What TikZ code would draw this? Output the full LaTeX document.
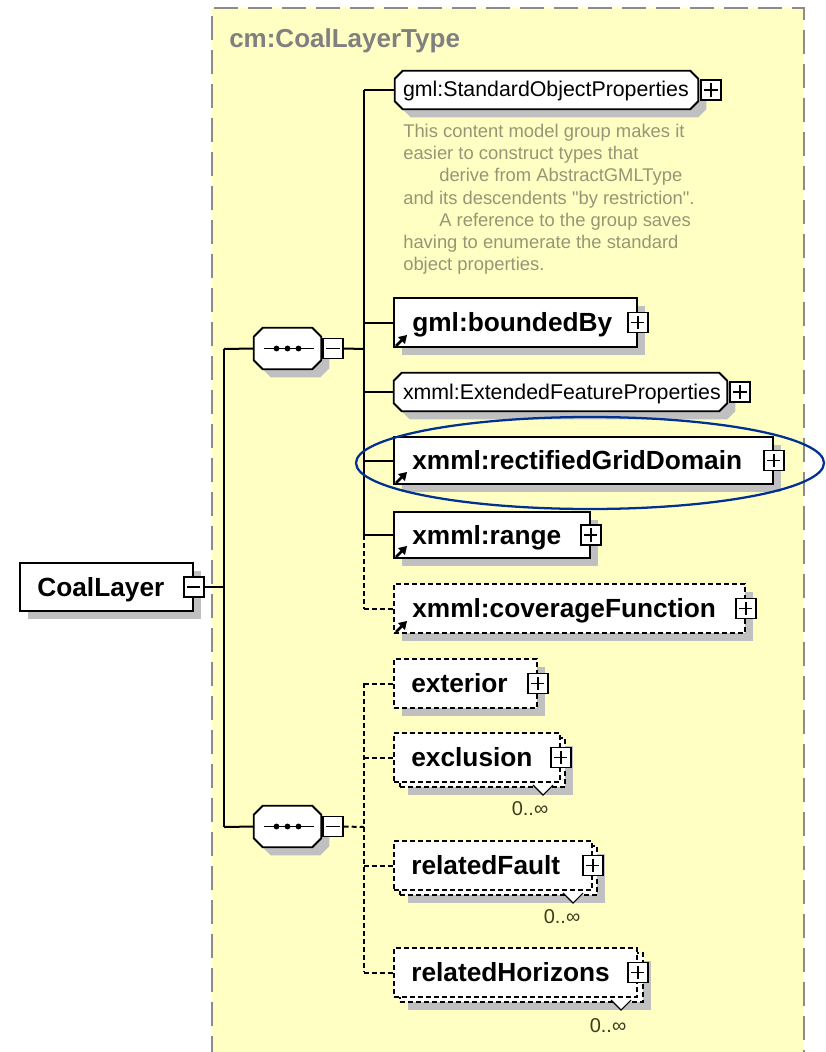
\documentclass[tikz,border=0pt]{standalone}
\usepackage{fontspec}
\setmainfont{Liberation Sans}[Ligatures=TeXOff]
\usetikzlibrary{shadows,fit,calc,arrows.meta}

\definecolor{bgyellow}{RGB}{255,255,196}
\definecolor{framegray}{RGB}{140,140,140}
\definecolor{shadowgray}{RGB}{192,192,192}
\definecolor{docolive}{RGB}{150,150,118}
\definecolor{titlegray}{RGB}{128,128,128}
\definecolor{markblue}{RGB}{0,48,145}
\definecolor{occurtext}{RGB}{60,60,30}

\tikzset{
  wire/.style={line width=1.5pt},
  optwire/.style={wire, dash pattern=on 3.6pt off 2.4pt},
  boxshadow/.style={drop shadow={shadow xshift=6pt, shadow yshift=-6pt, fill=shadowgray, opacity=1}},
  elembox/.style={rectangle, draw, fill=white, line width=1.4pt, inner sep=0pt},
  optbox/.style={elembox, dash pattern=on 3.6pt off 2.4pt},
  % invisible frame of a group or compositor; its outline is drawn with octagon
  grpframe/.style={rectangle, inner sep=0pt},
  % cut-corner outline of node #1, corner cut #2, offset (#3,#4)
  octagon/.style n args={4}{insert path={
      ($(#1.north west)+(#2+#3,#4)$) -- ($(#1.north east)+(-#2+#3,#4)$) --
      ($(#1.north east)+(#3,#2+#4)$) -- ($(#1.south east)+(#3,-#2+#4)$) --
      ($(#1.south east)+(-#2+#3,#4)$) -- ($(#1.south west)+(#2+#3,#4)$) --
      ($(#1.south west)+(#3,-#2+#4)$) -- ($(#1.north west)+(#3,#2+#4)$) -- cycle}},
  grpline/.style={draw=black, fill=white, line width=1.4pt},
  expander/.style={rectangle, draw, fill=white, line width=1.1pt, minimum size=15pt, inner sep=0pt},
  plusbox/.style={expander, path picture={\draw[line width=1.1pt]
      ([yshift=-2.6pt]path picture bounding box.north) -- ([yshift=2.6pt]path picture bounding box.south)
      ([xshift=2.6pt]path picture bounding box.west) -- ([xshift=-2.6pt]path picture bounding box.east);}},
  minusbox/.style={expander, path picture={\draw[line width=1.1pt]
      ([xshift=2.6pt]path picture bounding box.west) -- ([xshift=-2.6pt]path picture bounding box.east);}},
  ename/.style={anchor=base west, inner sep=0pt, font=\fontsize{19.7}{23}\selectfont\bfseries},
  gname/.style={anchor=base west, inner sep=0pt, font=\fontsize{16}{19}\selectfont},
  doctext/.style={anchor=north west, inner sep=0pt, align=left, text=docolive,
                  font=\fontsize{13.8}{16.6}\selectfont},
  occurs/.style={anchor=base, inner sep=0pt, text=occurtext, font=\fontsize{15}{17}\selectfont},
  refmark/.style={line width=2pt, -{Triangle[length=6pt,width=7pt]}},
  seqdot/.style={fill=black},
  chevron/.style={line width=0.8pt, fill=white},
}

\begin{document}
\begin{tikzpicture}[x=0.75pt, y=-0.75pt]
\useasboundingbox (0,0) rectangle (825,1052);
\fill[white] (0,0) rectangle (825,1052);

% complex type frame
\fill[bgyellow] (212,8) rectangle (804,1060);
\draw[framegray, line width=1.5pt, dash pattern=on 18pt off 7.5pt]
  (212,1060) -- (212,8) -- (804,8) -- (804,1060);
\node[anchor=base west, inner sep=0pt, text=titlegray, font=\fontsize{19.5}{23}\selectfont\bfseries]
  (title) at (229,48) {cm:CoalLayerType};

% root element
\node[elembox, boxshadow, fit={(20,563)(193,611)}] (root) {};
\node[minusbox] (rootm) at (root.east) {};
\node[ename] (roott) at ($(root.west)+(18,9)$) {CoalLayer};

% first sequence
\node[grpframe, fit={(254,328)(321,369)}] (seqA) {};
\fill[shadowgray, octagon={seqA}{9}{8}{8}];
\path[grpline, octagon={seqA}{9}{0}{0}];
\draw[line width=1.3pt] ($(seqA.center)+(-24,0)$) -- ($(seqA.center)+(26,0)$);
\foreach \d in {-11,0,11} \fill[seqdot] ($(seqA.center)+(\d,0)$) circle (2.2pt);
\node[minusbox, anchor=west] (seqAm) at ($(seqA.east)+(1,0)$) {};

% second sequence
\node[grpframe, fit={(254,806)(321,847)}] (seqB) {};
\fill[shadowgray, octagon={seqB}{9}{8}{8}];
\path[grpline, octagon={seqB}{9}{0}{0}];
\draw[line width=1.3pt] ($(seqB.center)+(-24,0)$) -- ($(seqB.center)+(26,0)$);
\foreach \d in {-11,0,11} \fill[seqdot] ($(seqB.center)+(\d,0)$) circle (2.2pt);
\node[minusbox, anchor=west] (seqBm) at ($(seqB.east)+(1,0)$) {};

% gml:StandardObjectProperties group
\node[grpframe, fit={(395,71)(698,109)}] (sop) {};
\fill[shadowgray, octagon={sop}{8}{8}{8}];
\path[grpline, octagon={sop}{8}{0}{0}];
\node[plusbox, anchor=west] (sopx) at ($(sop.east)+(2,0)$) {};
\node[gname] (sopt) at ($(sop.west)+(8,7)$) {gml:StandardObjectProperties};
\node[doctext] (sopdoc) at (403,124) {This content model group makes it\\
easier to construct types that\\
\hspace*{27pt}derive from AbstractGMLType\\
and its descendents "by restriction".\\
\hspace*{27pt}A reference to the group saves\\
having to enumerate the standard\\
object properties.};

% gml:boundedBy
\node[elembox, boxshadow, fit={(394,298)(637,347)}] (bb) {};
\node[plusbox] (bbx) at (bb.east) {};
\node[ename] (bbt) at ($(bb.west)+(19,9)$) {gml:boundedBy};
\draw[refmark] ($(bb.south west)+(3,-2)$) -- ($(bb.south west)+(14,-13)$);

% xmml:ExtendedFeatureProperties group
\node[grpframe, fit={(394,373)(727,411)}] (efp) {};
\fill[shadowgray, octagon={efp}{8}{8}{8}];
\path[grpline, octagon={efp}{8}{0}{0}];
\node[plusbox, anchor=west] (efpx) at ($(efp.east)+(2,0)$) {};
\node[gname] (efpt) at ($(efp.west)+(9,7)$) {xmml:ExtendedFeatureProperties};

% xmml:rectifiedGridDomain
\node[elembox, boxshadow, fit={(394,437)(773,484)}] (rgd) {};
\node[plusbox] (rgdx) at (rgd.east) {};
\node[ename] (rgdt) at ($(rgd.west)+(19,9)$) {xmml:rectifiedGridDomain};
\draw[refmark] ($(rgd.south west)+(3,-2)$) -- ($(rgd.south west)+(14,-13)$);

% xmml:range
\node[elembox, boxshadow, fit={(394,512)(590,558)}] (rng) {};
\node[plusbox] (rngx) at (rng.east) {};
\node[ename] (rngt) at ($(rng.west)+(19,9)$) {xmml:range};
\draw[refmark] ($(rng.south west)+(3,-2)$) -- ($(rng.south west)+(14,-13)$);

% xmml:coverageFunction (optional)
\node[optbox, boxshadow, fit={(394,584)(745,633)}] (cov) {};
\node[plusbox] (covx) at (cov.east) {};
\node[ename] (covt) at ($(cov.west)+(19,9)$) {xmml:coverageFunction};
\draw[refmark] ($(cov.south west)+(3,-2)$) -- ($(cov.south west)+(14,-13)$);

% exterior (optional)
\node[optbox, boxshadow, fit={(394,659)(537,708)}] (ext) {};
\node[plusbox] (extx) at (ext.east) {};
\node[ename] (extt) at ($(ext.west)+(18,9)$) {exterior};

% exclusion (0..unbounded)
\node[optbox, boxshadow, fit={(400,738)(565,787)}] (excb) {};
\node[optbox, fit={(394,733)(560,782)}] (exc) {};
\node[plusbox] (excx) at (exc.east) {};
\node[ename] (exct) at ($(exc.west)+(18,9)$) {exclusion};
\filldraw[chevron] (533,785) -- (543,795) -- (553,785);
\node[occurs] (exco) at (530,815) {0..∞};

% relatedFault (0..unbounded)
\node[optbox, boxshadow, fit={(400,846)(597,895)}] (fltb) {};
\node[optbox, fit={(394,841)(592,890)}] (flt) {};
\node[plusbox] (fltx) at (flt.east) {};
\node[ename] (fltt) at ($(flt.west)+(18,9)$) {relatedFault};
\filldraw[chevron] (563,893) -- (573,903) -- (583,893);
\node[occurs] (flto) at (562,923) {0..∞};

% relatedHorizons (0..unbounded)
\node[optbox, boxshadow, fit={(400,953)(643,1002)}] (horb) {};
\node[optbox, fit={(394,948)(637,997)}] (hor) {};
\node[plusbox] (horx) at (hor.east) {};
\node[ename] (hort) at ($(hor.west)+(18,9)$) {relatedHorizons};
\filldraw[chevron] (611,1000) -- (621,1010) -- (631,1000);
\node[occurs] (horo) at (608,1032) {0..∞};

% root connectors
\coordinate (rj) at (224,587);
\coordinate (rjA) at (224,349);
\coordinate (rjB) at (224,827);
\draw[wire] (rootm.east) -- (rj);
\draw[wire] (rjA) -- (rjB);
\draw[wire] (rjA) -- (seqA.west);
\draw[wire] (rjB) -- (seqB.west);

% first sequence connectors
\coordinate (tA) at (364,349);
\coordinate (tAtop) at (364,90);
\coordinate (tAsolid) at (364,535);
\coordinate (tAend) at (364,609);
\draw[wire] (seqAm.east) -- (tA);
\draw[wire] (tAtop) -- (tAsolid);
\draw[optwire] (tAsolid) -- (tAend);
\draw[wire] (tAtop) -- (sop.west);
\draw[wire] (bb.west -| tA) -- (bb.west);
\draw[wire] (efp.west -| tA) -- (efp.west);
\draw[wire] (rgd.west -| tA) -- (rgd.west);
\draw[wire] (rng.west -| tA) -- (rng.west);
\draw[optwire] (cov.west -| tA) -- (cov.west);

% second sequence connectors
\coordinate (tB) at (364,827);
\coordinate (tBtop) at (364,683);
\coordinate (tBend) at (364,972);
\draw[optwire] (seqBm.east) -- (tB);
\draw[optwire] (tBtop) -- (tBend);
\draw[optwire] (ext.west -| tB) -- (ext.west);
\draw[optwire] (exc.west -| tB) -- (exc.west);
\draw[optwire] (flt.west -| tB) -- (flt.west);
\draw[optwire] (hor.west -| tB) -- (hor.west);

% highlight ring
\draw[markblue, line width=1.7pt] (590,463) ellipse [x radius=234, y radius=46];
\end{tikzpicture}
\end{document}
